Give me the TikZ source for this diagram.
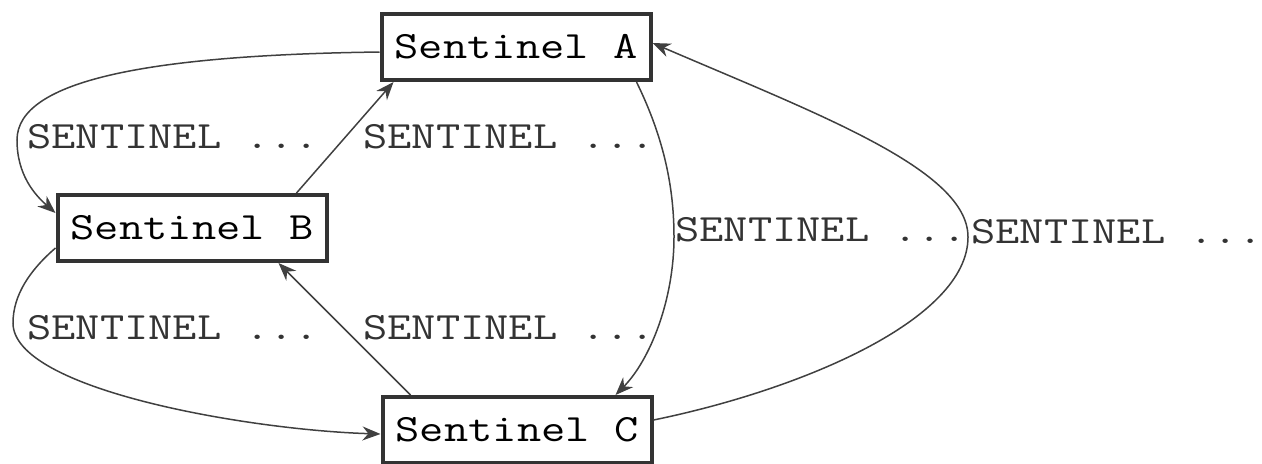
\documentclass[tikz,border=0pt]{standalone}
\usepackage{fontspec}
\setmonofont{Latin Modern Mono}[FakeStretch=1.22]
\usetikzlibrary{arrows.meta}

\tikzset{
  sentinel/.style={draw=black!80,line width=2pt,fill=white,inner sep=0pt,
    minimum width=134.5pt,minimum height=33pt},
  msglabel/.style={anchor=west,inner sep=0pt,text=black!80},
  msg/.style={draw=black!75,line width=0.75pt,-{Stealth[length=9pt,width=7pt]}}
}

\begin{document}
\begin{tikzpicture}[x=0.5pt,y=-0.5pt,font=\ttfamily\fontsize{19.3}{23}\selectfont]
  \useasboundingbox (0,0) rectangle (1262,463);
  % the three sentinels
  \node[sentinel] (sa) at (516,47) {Sentinel A};
  \node[sentinel] (sb) at (192,228) {Sentinel B};
  \node[sentinel] (sc) at (517,430) {Sentinel C};
  % messages between them
  \draw[msg] ([yshift=-2.5pt]sa.west) .. controls (150,55) and (17,80) .. (17,140)
    .. controls (17,175) and (35,195) .. ([yshift=7.5pt]sb.west);
  \draw[msg] ([xshift=-16pt]sb.north east) -- ([xshift=7pt]sa.south west);
  \draw[msg] ([xshift=-8pt]sa.south east) .. controls (665,140) and (674,190) .. (674,237)
    .. controls (674,300) and (650,360) .. ([xshift=-19pt]sc.north east);
  \draw[msg] ([yshift=5pt]sc.east) .. controls (800,390) and (968,320) .. (968,237)
    .. controls (968,170) and (820,115) .. ([yshift=2pt]sa.east);
  \draw[msg] ([yshift=-10pt]sb.west) .. controls (30,270) and (13,295) .. (13,323)
    .. controls (13,390) and (250,430) .. ([yshift=-2pt]sc.west);
  \draw[msg] ([xshift=15pt]sc.north west) -- ([xshift=-25pt]sb.south east);
  % labels
  \node[msglabel] (la) at (27,137) {SENTINEL ...};
  \node[msglabel] (lb) at (363,137) {SENTINEL ...};
  \node[msglabel] (lc) at (675,230) {SENTINEL ...};
  \node[msglabel] (ld) at (971,232) {SENTINEL ...};
  \node[msglabel] (le) at (27,328) {SENTINEL ...};
  \node[msglabel] (lf) at (363,328) {SENTINEL ...};
\end{tikzpicture}
\end{document}
